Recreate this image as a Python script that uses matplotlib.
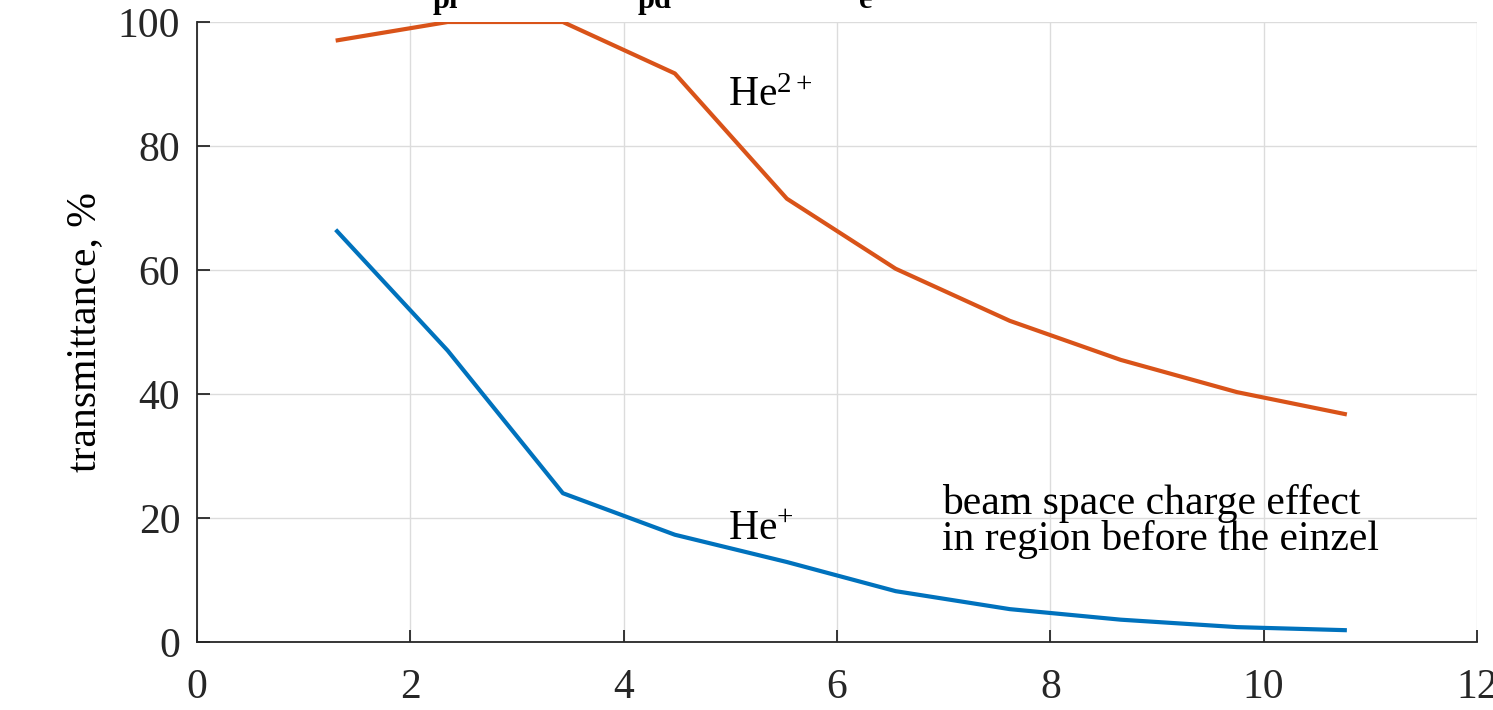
import matplotlib.pyplot as plt

plt.rcParams['font.family'] = ['Liberation Serif', 'DejaVu Serif']
plt.rcParams['mathtext.fontset'] = 'custom'
plt.rcParams['mathtext.rm'] = 'Liberation Serif'
plt.rcParams['mathtext.it'] = 'Liberation Serif:italic'

# data
x = [1.3, 2.35, 3.43, 4.48, 5.53, 6.55, 7.62, 8.66, 9.75, 10.78]
he2 = [97.0, 100.0, 100.0, 91.7, 71.5, 60.2, 51.8, 45.5, 40.3, 36.7]
he1 = [66.5, 47.0, 24.0, 17.3, 12.9, 8.2, 5.3, 3.6, 2.4, 1.9]
xticks = [0, 2, 4, 6, 8, 10, 12]
yticks = [0, 20, 40, 60, 80, 100]

fig = plt.figure(figsize=(14.93, 7.10), dpi=100)
ax = fig.add_axes([197 / 1493, 1 - 642 / 710, 1280 / 1493, 620 / 710])

ax.plot(x, he2, color='#D95319', lw=3, solid_capstyle='butt')
ax.plot(x, he1, color='#0072BD', lw=3, solid_capstyle='butt')

ax.set_xlim(0, 12)
ax.set_ylim(0, 100)
ax.set_xticks(xticks)
ax.set_yticks(yticks)
ax.grid(True, color='#dcdcdc', lw=1)
ax.set_axisbelow(True)
for s in ['top', 'right']:
    ax.spines[s].set_visible(False)
for s in ['left', 'bottom']:
    ax.spines[s].set_color('#262626')
    ax.spines[s].set_linewidth(1.3)
ax.tick_params(direction='in', length=9, width=1.3, colors='#262626',
               labelsize=30)
ax.tick_params(axis='y', pad=12)
ax.tick_params(axis='x', pad=19)
ax.set_ylabel('transmittance, %', fontsize=30, labelpad=10)

ax.text(4.98, 86.5, r'He$^{2+}$', fontsize=30)
ax.text(4.98, 16.5, r'He$^{+}$', fontsize=30)
ax.text(6.98, 14.8, 'beam space charge effect\nin region before the einzel',
        fontsize=30, linespacing=0.9, va='baseline')

# clipped labels from a panel above
for xx, t in [(445, 'pl'), (655, 'pd'), (866, 'e')]:
    fig.text(xx / 1493, 1 - 8 / 710, t, fontsize=22, fontweight='bold',
             ha='center', va='baseline')

fig.savefig('out.png', dpi=100)
